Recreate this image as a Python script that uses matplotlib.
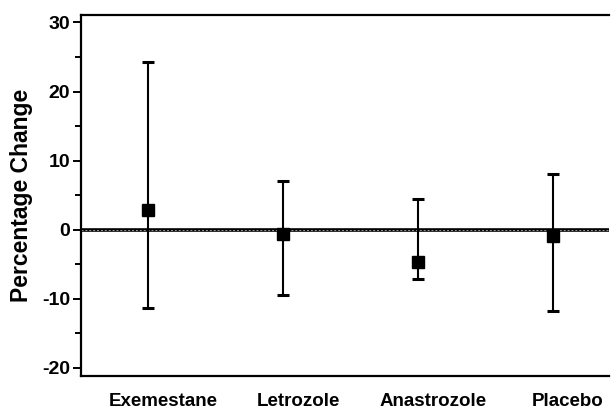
import numpy as np
import matplotlib.pyplot as plt
import matplotlib.transforms as mtransforms

plt.rcParams['font.family'] = ['Liberation Sans', 'DejaVu Sans']
plt.rcParams['font.weight'] = 'bold'
plt.rcParams['axes.unicode_minus'] = False

groups = ['Exemestane', 'Letrozole', 'Anastrozole', 'Placebo']
mean_change = [2.9, -0.6, -4.6, -0.9]
upper = [24.3, 7.1, 4.4, 8.0]
lower = [-11.3, -9.5, -7.1, -11.7]

xpos = np.arange(1, len(groups) + 1)
mean_arr = np.array(mean_change)
err = [mean_arr - np.array(lower), np.array(upper) - mean_arr]

fig = plt.figure(figsize=(6.11, 4.09), dpi=100)
ax = fig.add_axes([81 / 611, 1 - 376 / 409, (609 - 81) / 611, (376 - 15) / 409])

# zero reference line (striped look)
ax.axhline(0, color='black', lw=2.6, zorder=1)
ax.axhline(0, color='#9a9a9a', lw=0.7, ls=(0, (2, 2)), zorder=2)

ax.errorbar(xpos, mean_change, yerr=err, fmt='s', color='black', ms=8,
            ecolor='black', elinewidth=1.5, capsize=4.5, capthick=2.2, zorder=3)

ax.set_xlim(0.504, 4.415)
ax.set_ylim(-21.16, 31.07)
ax.set_yticks([-20, -10, 0, 10, 20, 30])
ax.set_yticks([-15, -5, 5, 15, 25], minor=True)
ax.set_xticks(xpos)
ax.set_xticklabels(groups, fontsize=13.5, fontweight='bold')
ax.tick_params(axis='x', length=0, pad=12)
ax.tick_params(axis='y', which='major', length=6, width=1.4, labelsize=14, pad=2)
ax.tick_params(axis='y', which='minor', length=4, width=1.4)
for lbl in ax.get_yticklabels():
    lbl.set_fontweight('bold')

# labels sit a little right of the bars
offset = mtransforms.ScaledTranslation(15 / 100, 0, fig.dpi_scale_trans)
for lbl in ax.get_xticklabels():
    lbl.set_transform(lbl.get_transform() + offset)

ax.set_ylabel('Percentage Change', fontsize=16.5, fontweight='bold', labelpad=6)

for s in ['left', 'bottom', 'top']:
    ax.spines[s].set_linewidth(1.6)
ax.spines['right'].set_visible(False)

fig.savefig('out.png', dpi=100)
